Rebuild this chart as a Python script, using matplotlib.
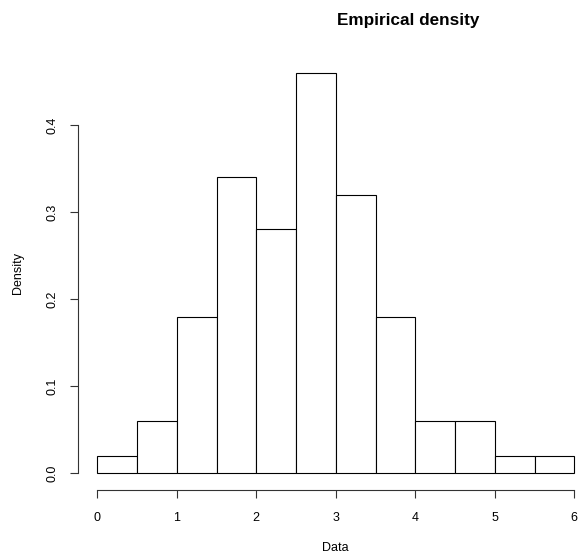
import matplotlib
matplotlib.use('Agg')
import matplotlib.pyplot as plt

plt.rcParams['font.family'] = ['Liberation Sans', 'DejaVu Sans']

bin_edges = [0, 0.5, 1, 1.5, 2, 2.5, 3, 3.5, 4, 4.5, 5, 5.5, 6]
density = [0.02, 0.06, 0.18, 0.34, 0.28, 0.46, 0.32, 0.18, 0.06, 0.06, 0.02, 0.02]
x_ticks = [0, 1, 2, 3, 4, 5, 6]
y_ticks = [0.0, 0.1, 0.2, 0.3, 0.4]
y_tick_labels = ['0.0', '0.1', '0.2', '0.3', '0.4']

W, H = 578, 559
fig = plt.figure(figsize=(W / 100, H / 100), dpi=100)

# axes box in pixels, matched to the R plot region
left_px, right_px = 78.2, 578
top_px, bottom_px = 56.6, 489.5
ax = fig.add_axes([left_px / W, 1 - bottom_px / H,
                   (right_px - left_px) / W, (bottom_px - top_px) / H])

ax.set_xlim(-0.24, -0.24 + (right_px - left_px) / 79.5)
ax.set_ylim(-0.0184, 0.4784)

widths = [b - a for a, b in zip(bin_edges[:-1], bin_edges[1:])]
ax.bar(bin_edges[:-1], density, width=widths, align='edge',
       color='white', edgecolor='black', linewidth=0.8)

for side in ['top', 'right']:
    ax.spines[side].set_visible(False)
ax.spines['left'].set_bounds(0, 0.4)
ax.spines['bottom'].set_bounds(0, 6)
for side in ['left', 'bottom']:
    ax.spines[side].set_linewidth(0.8)
    ax.spines[side].set_color('#333333')

ax.set_xticks(x_ticks)
ax.set_xticklabels([str(t) for t in x_ticks], fontsize=9)
ax.set_yticks(y_ticks)
ax.set_yticklabels(y_tick_labels, fontsize=9, rotation=90, va='center')
ax.tick_params(axis='both', direction='out', length=5.5, width=0.8,
               color='#333333')
ax.tick_params(axis='x', pad=11)
ax.tick_params(axis='y', pad=9)

fig.text(18 / W, 1 - 273 / H, 'Density', rotation=90, fontsize=9,
         ha='center', va='center')
fig.text(335.5 / W, 1 - 548 / H, 'Data', fontsize=9, ha='center', va='center')
fig.text(408 / W, 1 - 21 / H, 'Empirical density', fontsize=12.3,
         fontweight='bold', ha='center', va='center')

fig.savefig('out.png', dpi=100)
